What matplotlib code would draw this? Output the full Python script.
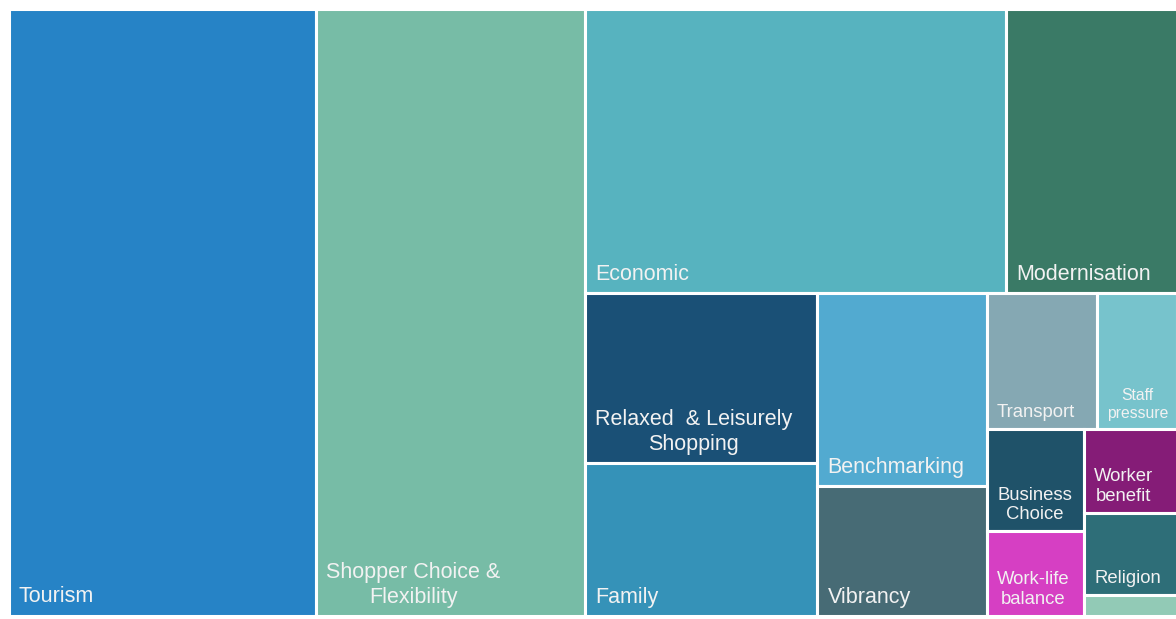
import matplotlib
matplotlib.use("Agg")
import matplotlib.pyplot as plt
from matplotlib.patches import Rectangle

# category names (line breaks as in the chart) and their sizes
labels = ["Tourism", "Shopper Choice &\nFlexibility", "Economic", "Modernisation",
          "Relaxed  & Leisurely\nShopping", "Family", "Benchmarking", "Vibrancy",
          "Transport", "Staff\npressure", "Business\nChoice", "Work-life\nbalance",
          "Worker\nbenefit", "Religion", "Other"]
values = [26.3, 22.95, 16.85, 6.85, 5.55, 5.0, 4.6, 3.1,
          2.1, 1.55, 1.4, 1.15, 1.1, 1.08, 0.27]
# how many items go in each strip of the treemap
strips = [1, 1, 2, 2, 2, 2, 2, 1, 1, 1]
colors = ["#2683C6", "#77BCA6", "#57B3BF", "#3A7A66", "#1A5076", "#3592B8",
          "#52AAD0", "#476B75", "#85A8B3", "#77C3CC", "#1F5269", "#D63FC3",
          "#851C77", "#2E6E78", "#92CAB6"]


def strip_layout(vals, groups, x, y, w, h):
    scale = w * h / sum(vals)
    areas = [v * scale for v in vals]
    rects = []
    i = 0
    for n in groups:
        group = areas[i:i + n]
        total = sum(group)
        if w >= h:
            cw = total / h
            yy = y
            for a in group:
                rects.append((x, yy, cw, a / cw))
                yy += a / cw
            x += cw
            w -= cw
        else:
            rh = total / w
            xx = x
            for a in group:
                rects.append((xx, y, a / rh, rh))
                xx += a / rh
            y += rh
            h -= rh
        i += n
    return rects


W, H = 1169, 607
fig = plt.figure(figsize=(11.76, 6.19), dpi=100)
ax = fig.add_axes([8.5 / 1176, 3.5 / 619, W / 1176, H / 619])
ax.set_xlim(0, W)
ax.set_ylim(H, 0)
ax.axis("off")

rects = strip_layout(values, strips, 0, 0, W, H)
for (x, y, w, h), lab, c in zip(rects, labels, colors):
    ax.add_patch(Rectangle((x, y), w, h, facecolor=c, edgecolor="white", linewidth=2.2))
    if h < 30:
        continue
    if w > 150:
        fs = 15.5
    elif w > 90:
        fs = 13.3
    else:
        fs = 11.3
    ax.annotate(lab, xy=(x, y + h), xytext=(10, 8), textcoords="offset pixels",
                ha="left", va="bottom", multialignment="center", linespacing=1.22,
                fontsize=fs, color="#F2F2F2", family=["Liberation Sans", "DejaVu Sans"])

fig.savefig("out.png", dpi=100)
